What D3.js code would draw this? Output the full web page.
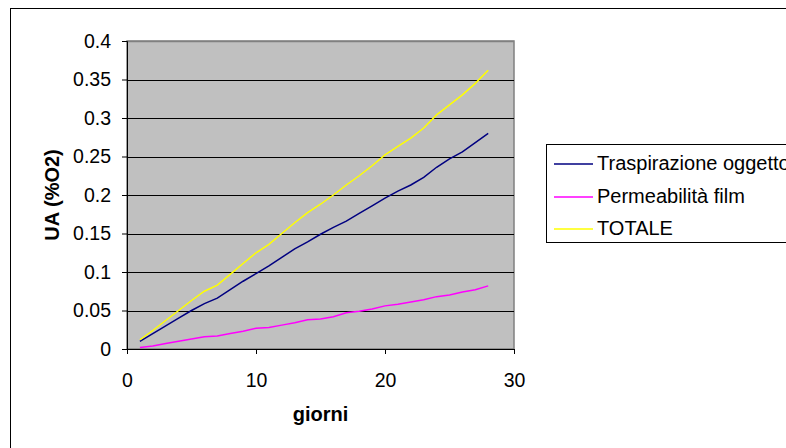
<!DOCTYPE html>
<html><head><meta charset="utf-8">
<script src="https://cdn.jsdelivr.net/npm/d3@7/dist/d3.min.js"></script>
<style>html,body{margin:0;padding:0;background:#fff;overflow:hidden}</style>
</head><body>
<svg id="c" width="786" height="448"></svg>
<script>
const days = [1,2,3,4,5,6,7,8,9,10,11,12,13,14,15,16,17,18,19,20,21,22,23,24,25,26,27,28];
const traspirazione = [0.010,0.020,0.030,0.040,0.050,0.059,0.066,0.077,0.088,0.098,0.108,0.119,0.130,0.139,0.149,0.158,0.166,0.176,0.186,0.196,0.205,0.213,0.223,0.236,0.247,0.256,0.268,0.280];
const permeabilita = [0.002,0.004,0.007,0.010,0.013,0.016,0.017,0.020,0.023,0.027,0.028,0.031,0.034,0.038,0.039,0.042,0.047,0.049,0.052,0.056,0.058,0.061,0.064,0.068,0.070,0.074,0.077,0.082];
const totale = [0.012,0.024,0.037,0.050,0.063,0.075,0.083,0.097,0.111,0.125,0.136,0.150,0.164,0.177,0.188,0.200,0.213,0.225,0.238,0.252,0.263,0.274,0.287,0.304,0.317,0.330,0.345,0.362];
const seriesNames = ["Traspirazione oggetto","Permeabilità film","TOTALE"];
const seriesColors = ["#000080","#FF00FF","#FFFF00"];
const xTicks = [0,10,20,30];
const yTicks = [0,0.05,0.1,0.15,0.2,0.25,0.3,0.35,0.4];

const svg = d3.select("#c");
const font = "Liberation Sans, Arial, sans-serif";
const L=127, R=514, T=41, B=349;
const x = d3.scaleLinear().domain([0,30]).range([L,R]);
const y = d3.scaleLinear().domain([0,0.4]).range([B,T]);

// outer chart border
svg.append("rect").attr("x",10.5).attr("y",8.5).attr("width",800).attr("height",460)
  .attr("fill","#fff").attr("stroke","#000").attr("stroke-width",1);

// plot area
svg.append("rect").attr("x",L).attr("y",T).attr("width",R-L).attr("height",B-T)
  .attr("fill","#C0C0C0").attr("stroke","#808080").attr("stroke-width",1.5);

// gridlines
svg.append("g").selectAll("line").data(yTicks.filter(d=>d>0)).join("line")
  .attr("x1",L).attr("x2",R).attr("y1",d=>Math.round(y(d))+0.5).attr("y2",d=>Math.round(y(d))+0.5)
  .attr("stroke",d=>d===0.4?"#808080":"#000").attr("stroke-width",d=>d===0.4?1.5:1);

// axes
const fmt = d=> d===0?"0":String(d);
const yAxis = svg.append("g").attr("transform",`translate(${L},0)`)
  .call(d3.axisLeft(y).tickValues(yTicks).tickFormat(fmt).tickSize(5).tickPadding(11));
const xAxis = svg.append("g").attr("transform",`translate(0,${B})`)
  .call(d3.axisBottom(x).tickValues(xTicks).tickFormat(d3.format("d")).tickSize(5).tickPadding(19));
[yAxis,xAxis].forEach(a=>{
  a.selectAll("text").attr("font-family",font).attr("font-size",19.5).attr("fill","#000");
  a.selectAll("line,path").attr("stroke","#000").attr("stroke-width",1);
});

// lines
const allSeries = [traspirazione, permeabilita, totale];
const lineGen = d3.line().x((d,i)=>x(days[i])).y(d=>y(d));
svg.append("g").selectAll("path").data(allSeries).join("path")
  .attr("d",d=>lineGen(d)).attr("fill","none")
  .attr("stroke",(d,i)=>seriesColors[i]).attr("stroke-width",1.5);

// axis titles
svg.append("text").attr("x",(L+R)/2).attr("y",421).attr("text-anchor","middle")
  .attr("font-family",font).attr("font-size",20).attr("font-weight","bold").text("giorni");
svg.append("text").attr("transform",`translate(59,${(T+B)/2}) rotate(-90)`).attr("text-anchor","middle")
  .attr("font-family",font).attr("font-size",20).attr("font-weight","bold").text("UA (%O2)");

// legend
const lg = svg.append("g");
lg.append("rect").attr("x",546.5).attr("y",144.5).attr("width",300).attr("height",98)
  .attr("fill","#fff").attr("stroke","#000").attr("stroke-width",1);
const rowsY = [164,197,229];
seriesNames.forEach((n,i)=>{
  lg.append("line").attr("x1",554).attr("x2",593).attr("y1",rowsY[i]).attr("y2",rowsY[i])
    .attr("stroke",seriesColors[i]).attr("stroke-width",1.5);
  lg.append("text").attr("x",597).attr("y",rowsY[i]+5.5).attr("font-family",font).attr("font-size",20)
    .attr("fill","#000").text(n);
});
</script>
</body></html>
